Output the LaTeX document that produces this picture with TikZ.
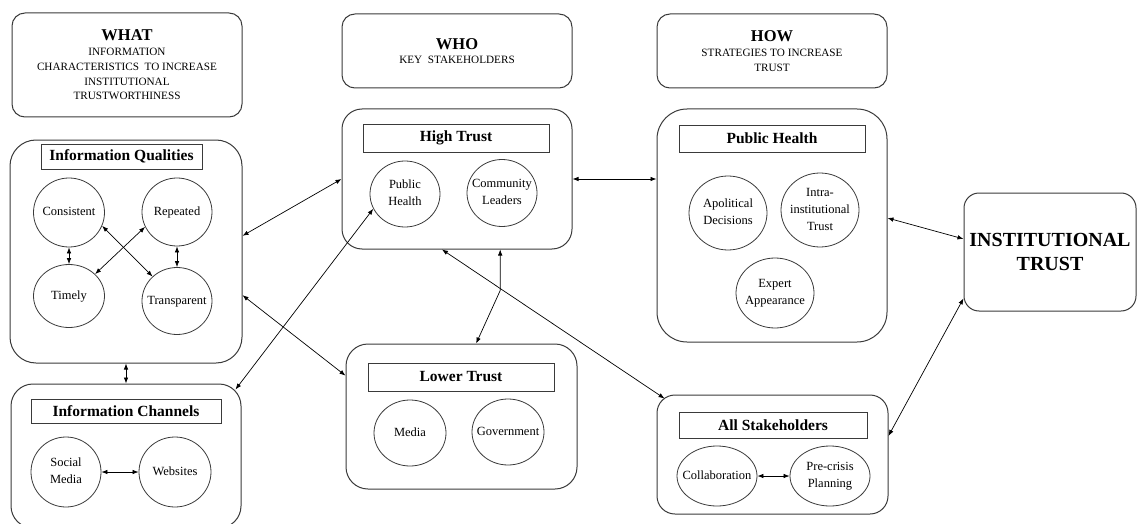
\documentclass[tikz,border=0pt]{standalone}
\usepackage{fontspec}
\setmainfont{Liberation Serif}
\usetikzlibrary{arrows.meta,shapes.geometric,calc}
\newcommand{\ctext}[1]{\makebox[0pt][c]{\begin{tabular}{@{}c@{}}#1\end{tabular}}}
\definecolor{boxc}{HTML}{3A3A3A}
\tikzset{
  bx/.style={draw=boxc, line width=1pt, rectangle, inner sep=0pt},
  hdrbox/.style={bx, rounded corners=13pt, align=center, font=\fontsize{11.2}{14.7}\selectfont},
  ttlbox/.style={draw=boxc, line width=0.9pt, rectangle, inner sep=0pt, font=\fontsize{15.5}{18}\selectfont\bfseries},
  circ/.style={draw=boxc, line width=0.8pt, ellipse, inner sep=0pt, font=\fontsize{12.5}{16.7}\selectfont},
  arr/.style={<->, >={Latex[length=6pt,width=4.5pt]}, line width=0.7pt, draw=black},
}
\begin{document}
\begin{tikzpicture}[x=1pt,y=-1pt]
\useasboundingbox (0,0) rectangle (1137,524);
% headers
\node[hdrbox, minimum width=230pt, minimum height=104pt] (what) at (127,65)
  {{\fontsize{16.5}{16.5}\selectfont\bfseries WHAT}\\INFORMATION\\CHARACTERISTICS\ \ TO INCREASE\\INSTITUTIONAL\\TRUSTWORTHINESS};
\node[hdrbox, minimum width=230pt, minimum height=74pt] (who) at (457,51)
  {{\fontsize{16.5}{16.5}\selectfont\bfseries WHO}\\KEY\ \ STAKEHOLDERS};
\node[hdrbox, minimum width=230pt, minimum height=74pt] (how) at (772,51)
  {{\fontsize{16.5}{16.5}\selectfont\bfseries HOW}\\STRATEGIES TO INCREASE\\TRUST};
% big boxes
\node[bx, rounded corners=26pt, minimum width=232pt, minimum height=223pt] (qi) at (126,251.5) {};
\node[bx, rounded corners=22pt, minimum width=230pt, minimum height=144pt] (ic) at (126,456) {};
\node[bx, rounded corners=20pt, minimum width=230pt, minimum height=140pt] (ht) at (457,179) {};
\node[bx, rounded corners=22pt, minimum width=231pt, minimum height=145pt] (lt) at (461.5,416.5) {};
\node[bx, rounded corners=30pt, minimum width=230pt, minimum height=233pt] (ph) at (772,225.5) {};
\node[bx, rounded corners=18pt, minimum width=231pt, minimum height=119pt] (as) at (772.5,454.5) {};
\node[bx, rounded corners=15pt, minimum width=172pt, minimum height=118pt, align=center,
      font=\fontsize{20}{24}\selectfont\bfseries] (it) at (1050,252) {INSTITUTIONAL\\TRUST};
% titles
\node[ttlbox, minimum width=161pt, minimum height=25pt] (qit) at (121.5,156.5) {Information Qualities};
\node[ttlbox, minimum width=190pt, minimum height=24pt] (ict) at (126,411) {Information Channels};
\node[ttlbox, minimum width=186pt, minimum height=28pt] (htt) at (456,138) {High Trust};
\node[ttlbox, minimum width=186pt, minimum height=28pt] (ltt) at (461,377) {Lower Trust};
\node[ttlbox, minimum width=186pt, minimum height=27pt] (pht) at (772,138.5) {Public Health};
\node[ttlbox, minimum width=188pt, minimum height=26pt] (ast) at (773,425) {All Stakeholders};
% circles: information qualities
\node[circ, minimum width=71pt, minimum height=69pt] (c1) at (69,212.5) {\ctext{Consistent}};
\node[circ, minimum width=70pt, minimum height=68pt] (c2) at (177,212) {\ctext{Repeated}};
\node[circ, minimum width=71pt, minimum height=63pt] (c3) at (69,296) {\ctext{Timely}};
\node[circ, minimum width=70pt, minimum height=67pt] (c4) at (177,301) {\ctext{Transparent}};
% information channels
\node[circ, minimum width=70pt, minimum height=70pt] (sm) at (66,472) {\ctext{Social\\Media}};
\node[circ, minimum width=72pt, minimum height=70pt] (ws) at (175,472) {\ctext{Websites}};
% high trust
\node[circ, minimum width=70pt, minimum height=66pt] (hph) at (405,194) {\ctext{Public\\Health}};
\node[circ, minimum width=70pt, minimum height=67pt] (hcl) at (502,193) {\ctext{Community\\Leaders}};
% lower trust
\node[circ, minimum width=72pt, minimum height=66pt] (med) at (410,433) {\ctext{Media}};
\node[circ, minimum width=72pt, minimum height=66pt] (gov) at (508,432) {\ctext{Government}};
% public health
\node[circ, minimum width=78pt, minimum height=74pt] (apo) at (728,213) {\ctext{Apolitical\\Decisions}};
\node[circ, minimum width=78pt, minimum height=74pt] (intra) at (820,210) {\ctext{Intra-\\institutional\\Trust}};
\node[circ, minimum width=78pt, minimum height=70pt] (exp) at (775,293) {\ctext{Expert\\Appearance}};
% all stakeholders
\node[circ, minimum width=80pt, minimum height=60pt] (co) at (717,476) {\ctext{Collaboration}};
\node[circ, minimum width=80pt, minimum height=60pt] (pc) at (830,476) {\ctext{Pre-crisis\\Planning}};
% inner connectors
\draw[arr] (c1.south) -- (c3.north);
\draw[arr] (c2.south) -- (c4.north);
\draw[arr] (c1.-22) -- (c4.135);
\draw[arr] (c2.205) -- (c3.40);
\draw[arr] (sm.east) -- (ws.west);
\draw[arr] (co.east) -- (pc.west);
% outer connectors
\draw[arr] ($(qi.south west)!0.5!(qi.south east)$) -- ($(ic.north west)!0.5!(ic.north east)$);
\draw[arr] ($(qi.north east)!0.43!(qi.south east)$) -- (ht.west);
\draw[arr] ($(qi.north east)!0.695!(qi.south east)$) -- ($(lt.north west)!0.22!(lt.south west)$);
\draw[arr] ([shift={(-6pt,-6pt)}]ic.north east) -- (hph.205);
\draw[arr] ($(ht.south west)!0.435!(ht.south east)$) -- ([shift={(8pt,-4pt)}]as.north west);
\coordinate (htb) at ($(ht.south west)!0.687!(ht.south east)$);
\coordinate (bend) at ($(htb)+(0pt,-41pt)$);
\draw[arr] (htb) -- (bend) -- ($(lt.north west)!0.563!(lt.north east)$);
\draw[arr] (ht.east) -- (ht.east -| ph.west);
\draw[arr] ($(ph.north east)!0.468!(ph.south east)$) -- ($(it.north west)!0.39!(it.south west)$);
\draw[arr] ($(as.north east)!0.345!(as.south east)$) -- ($(it.north west)!0.89!(it.south west)$);
\end{tikzpicture}
\end{document}
